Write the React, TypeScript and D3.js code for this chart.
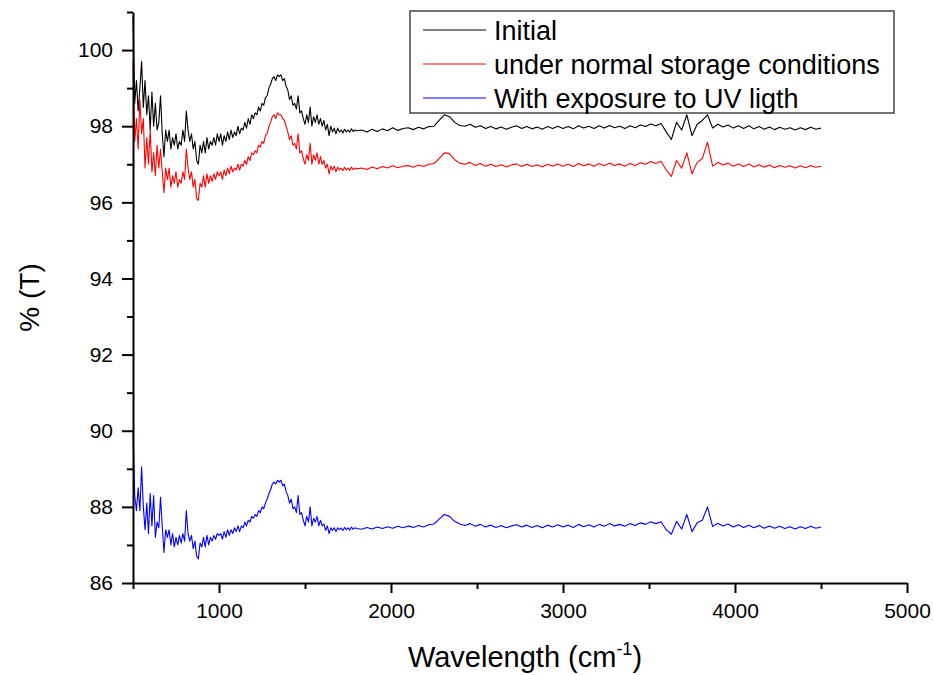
import { useEffect, useRef } from 'react';
import * as d3 from 'd3';

// wavenumber grid (cm-1) the three spectra are read on
const wavenumbers = [
  500, 510, 520, 530, 540, 550, 560, 570, 580, 590,
  600, 610, 620, 630, 640, 650, 660, 670, 680, 690,
  700, 710, 720, 730, 740, 750, 760, 770, 780, 790,
  800, 810, 820, 830, 840, 850, 860, 870, 880, 890,
  900, 910, 920, 930, 940, 950, 960, 970, 980, 990,
  1000,
  1010, 1020, 1030, 1040, 1050, 1060, 1070, 1080, 1090, 1100,
  1110, 1120, 1130, 1140, 1150, 1160, 1170, 1180, 1190, 1200,
  1210, 1220, 1230, 1240, 1250, 1260, 1270, 1280, 1290, 1300,
  1310, 1320, 1330, 1340, 1350, 1360, 1370, 1380, 1390, 1400,
  1410, 1420, 1430, 1440, 1450, 1460, 1470, 1480, 1490, 1500,
  1510, 1520, 1530, 1540, 1550, 1560, 1570, 1580, 1590, 1600,
  1610, 1620, 1630, 1640, 1650, 1660, 1670, 1680, 1690, 1700,
  1710, 1720, 1730, 1740, 1750, 1760, 1770, 1780, 1790, 1800,
  1830, 1860, 1890, 1920, 1950, 1980, 2010, 2040, 2070, 2100,
  2130, 2160, 2190, 2220, 2250, 2280, 2310, 2340, 2370, 2400,
  2430, 2460, 2490, 2520, 2550, 2580, 2610, 2640, 2670, 2700,
  2730, 2760, 2790, 2820, 2850, 2880, 2910, 2940, 2970, 3000,
  3030, 3060, 3090, 3120, 3150, 3180, 3210, 3240, 3270, 3300,
  3330, 3360, 3390, 3420, 3450, 3480, 3510, 3540, 3570, 3600,
  3630, 3660, 3690, 3720, 3750, 3780, 3810, 3840, 3870, 3900,
  3930, 3960, 3990, 4020, 4050, 4080, 4110, 4140, 4170, 4200,
  4230, 4260, 4290, 4320, 4350, 4380, 4410, 4440, 4470, 4500,
];

const initial = [
  100.9, 98.6, 99.2, 98.4, 99.0, 99.7, 98.5, 99.2, 98.3, 98.8,
  97.9, 98.9, 98.0, 98.6, 97.9, 98.1, 98.8, 97.8, 97.2, 97.9,
  97.6, 97.9, 97.4, 97.7, 97.5, 97.8, 97.4, 97.6, 97.5, 97.9,
  97.6, 98.4, 97.9, 97.6, 97.8, 97.4, 97.6, 97.1, 97.0, 97.5,
  97.3, 97.6, 97.3, 97.7, 97.4, 97.6, 97.5, 97.7, 97.5, 97.8,
  97.6,
  97.8, 97.5, 97.75, 97.6, 97.85, 97.65, 97.9, 97.7, 97.85, 97.75,
  98.0, 97.8, 97.95, 97.9, 98.1, 97.95, 98.2, 98.05, 98.3, 98.2,
  98.35, 98.3, 98.5, 98.4, 98.6, 98.55, 98.75, 98.8, 99.0, 99.1,
  99.25, 99.3, 99.2, 99.35, 99.3, 99.35, 99.2, 99.25, 99.05, 98.95,
  98.7, 98.8, 98.55, 98.6, 98.45, 98.8, 98.35, 98.4, 98.2, 98.05,
  98.3, 98.1, 98.5, 98.0, 98.25, 98.1, 98.3, 98.05, 98.2, 98.0,
  98.15, 97.9, 98.05, 97.75, 98.0, 97.85, 97.95, 97.8, 97.95, 97.85,
  97.9, 97.82, 97.92, 97.85, 97.9, 97.84, 97.93, 97.86, 97.9, 97.88,
  97.9, 97.85, 97.92, 97.86, 97.93, 97.88, 97.96, 97.89, 97.94, 97.96,
  97.91, 97.97, 97.93, 97.99, 98.0, 98.15, 98.3, 98.25, 98.1, 98.02,
  98.0, 98.05, 97.97, 98.01, 97.94, 97.99, 97.93, 97.98, 97.92, 97.97,
  98.01, 97.94, 97.99, 97.93, 97.98, 97.92, 97.99, 97.94, 98.0, 97.94,
  97.99, 97.93, 98.01, 97.95, 98.0, 97.94, 98.01, 97.95, 98.02, 97.96,
  98.0, 97.94, 98.01, 97.96, 98.03, 97.99, 98.06, 98.01, 98.07, 97.85,
  97.65, 98.1, 97.9, 98.3, 97.75, 98.05, 98.15, 98.3, 97.95, 98.05,
  97.98, 98.03, 97.95, 98.01, 97.94, 98.01, 97.93, 97.99, 97.92, 97.98,
  97.91, 97.97, 97.92, 97.96, 97.9, 97.96, 97.91, 97.97, 97.92, 97.95,
];

const normalStorage = [
  99.7, 97.6, 98.2, 97.4, 98.7, 97.8, 98.2, 96.9, 97.7, 97.0,
  97.9, 96.8, 97.3, 96.7, 97.5, 96.9, 97.4, 96.8, 96.25, 96.9,
  96.6, 96.9, 96.4, 96.7, 96.5, 96.8, 96.4, 96.6, 96.5, 96.8,
  96.6, 97.4, 96.9, 96.6, 96.8, 96.4, 96.6, 96.1, 96.05, 96.5,
  96.4, 96.7, 96.4, 96.75, 96.5, 96.7, 96.55, 96.75, 96.6, 96.8,
  96.7,
  96.8, 96.6, 96.85, 96.7, 96.9, 96.75, 96.95, 96.8, 96.9, 96.85,
  97.0, 96.85, 97.0, 96.95, 97.1, 97.0, 97.2, 97.1, 97.3, 97.25,
  97.35, 97.3, 97.5, 97.45, 97.6, 97.55, 97.75, 97.8, 98.0, 98.1,
  98.25, 98.3, 98.2, 98.35, 98.3, 98.3, 98.2, 98.15, 98.0, 97.85,
  97.65, 97.75, 97.5, 97.55, 97.4, 97.8, 97.3, 97.35, 97.15, 97.0,
  97.25, 97.1, 97.55, 97.0, 97.25, 97.1, 97.3, 97.0, 97.2, 97.0,
  97.1, 96.9, 97.0, 96.75, 96.95, 96.85, 96.95, 96.8, 96.92, 96.85,
  96.9, 96.83, 96.92, 96.85, 96.9, 96.84, 96.93, 96.86, 96.9, 96.88,
  96.9, 96.86, 96.93, 96.88, 96.94, 96.9, 96.96, 96.91, 96.95, 96.97,
  96.92, 96.98, 96.94, 97.0, 97.02, 97.15, 97.3, 97.28, 97.12, 97.03,
  97.0, 97.05, 96.97, 97.02, 96.95, 97.0, 96.94, 96.99, 96.93, 96.98,
  97.01, 96.94, 97.0, 96.94, 96.99, 96.93, 97.0, 96.95, 97.01, 96.95,
  97.0, 96.94, 97.02, 96.96, 97.01, 96.95, 97.02, 96.96, 97.03, 96.97,
  97.01, 96.95, 97.02, 96.97, 97.04, 97.0, 97.07, 97.02, 97.08, 96.85,
  96.68, 97.1, 96.9, 97.3, 96.75, 97.05, 97.15, 97.58, 96.95, 97.05,
  96.98, 97.03, 96.95, 97.01, 96.94, 97.01, 96.93, 96.99, 96.92, 96.98,
  96.91, 96.97, 96.92, 96.96, 96.9, 96.96, 96.91, 96.97, 96.92, 96.95,
];

const uvExposure = [
  89.95, 88.3, 87.9, 88.5, 87.9, 89.05, 88.0, 87.4, 88.1, 87.3,
  88.35, 87.5, 88.3, 87.2, 87.6, 87.45, 88.25, 87.5, 86.8, 87.4,
  87.2, 87.4, 87.0, 87.3, 86.95, 87.2, 87.0, 87.25, 87.05, 87.3,
  87.1, 87.9, 87.3, 87.1, 87.25, 86.9, 87.1, 86.7, 86.63, 87.05,
  86.95, 87.2, 86.95, 87.25, 87.0, 87.2, 87.1, 87.25, 87.15, 87.3,
  87.25,
  87.3, 87.15, 87.35, 87.2, 87.4, 87.25, 87.4, 87.3, 87.45, 87.35,
  87.5, 87.35, 87.5, 87.45, 87.6, 87.5, 87.65, 87.6, 87.75, 87.7,
  87.8, 87.75, 87.9, 87.85, 88.0, 87.95, 88.1, 88.2, 88.35, 88.45,
  88.6, 88.65, 88.6, 88.7, 88.65, 88.7, 88.55, 88.6, 88.4, 88.3,
  88.1, 88.2, 87.95, 88.0, 87.85, 88.3, 87.8, 87.85, 87.65, 87.5,
  87.75, 87.6, 88.0, 87.5, 87.7, 87.6, 87.75, 87.5, 87.65, 87.5,
  87.55, 87.38, 87.5, 87.3, 87.45, 87.38, 87.45, 87.35, 87.45, 87.4,
  87.44, 87.38, 87.46, 87.4, 87.45, 87.39, 87.47, 87.41, 87.45, 87.43,
  87.41, 87.46, 87.42, 87.47, 87.43, 87.48, 87.44, 87.49, 87.45, 87.5,
  87.46, 87.51, 87.47, 87.53, 87.55, 87.68, 87.8, 87.75, 87.62, 87.55,
  87.51, 87.56, 87.49, 87.54, 87.47, 87.52, 87.46, 87.51, 87.45, 87.5,
  87.53, 87.47, 87.52, 87.46, 87.51, 87.45, 87.52, 87.47, 87.53, 87.47,
  87.52, 87.46, 87.54, 87.48, 87.53, 87.47, 87.54, 87.49, 87.56, 87.5,
  87.54, 87.49, 87.56, 87.51, 87.58, 87.54, 87.61, 87.56, 87.61, 87.4,
  87.28, 87.62, 87.42, 87.8, 87.35, 87.58, 87.65, 88.0, 87.48, 87.57,
  87.5, 87.55, 87.47, 87.53, 87.46, 87.52, 87.45, 87.51, 87.44, 87.5,
  87.44, 87.49, 87.43, 87.48, 87.42, 87.48, 87.43, 87.49, 87.44, 87.47,
];

const seriesNames = ['Initial', 'under normal storage conditions', 'With exposure to UV ligth'];
const seriesColors = ['#000000', '#ff0000', '#0000ff'];
const seriesValues = [initial, normalStorage, uvExposure];

const xMajorTicks = [1000, 2000, 3000, 4000, 5000];
const xMinorTicks = [500, 1500, 2500, 3500, 4500];
const yMajorTicks = [86, 88, 90, 92, 94, 96, 98, 100];
const yMinorTicks = [87, 89, 91, 93, 95, 97, 99, 101];

const FONT = '"Liberation Sans", Arial, Helvetica, sans-serif';

export default function App() {
  const svgRef = useRef<SVGSVGElement>(null);

  useEffect(() => {
    if (!svgRef.current) return;
    const svg = d3.select(svgRef.current);
    svg.selectAll('*').remove();

    const margin = { top: 12, right: 26, bottom: 92, left: 133 };
    const width = 933 - margin.left - margin.right;
    const height = 675 - margin.top - margin.bottom;

    const x = d3.scaleLinear().domain([500, 5000]).range([0, width]);
    const y = d3.scaleLinear().domain([86, 101]).range([height, 0]);

    const g = svg.append('g').attr('transform', `translate(${margin.left},${margin.top})`);

    // spectra
    const line = d3
      .line<number>()
      .x((_, i) => x(wavenumbers[i]))
      .y((d) => y(d));

    seriesValues.forEach((vals, k) => {
      const n = Math.min(vals.length, wavenumbers.length);
      g.append('path')
        .datum(vals.slice(0, n))
        .attr('fill', 'none')
        .attr('stroke', seriesColors[k])
        .attr('stroke-width', 1.1)
        .attr('stroke-linejoin', 'round')
        .attr('d', line);
    });

    // axes
    const styleAxis = (sel: d3.Selection<SVGGElement, unknown, null, undefined>) => {
      sel.selectAll('path.domain').attr('stroke', '#000').attr('stroke-width', 2);
      sel.selectAll('.tick line').attr('stroke', '#000').attr('stroke-width', 2);
      sel.selectAll('.tick text').attr('fill', '#000').style('font-family', FONT).style('font-size', '21px');
    };

    const xAxis = g.append('g').attr('transform', `translate(0,${height})`)
      .call(d3.axisBottom(x).tickValues(xMajorTicks).tickFormat(d3.format('d')).tickSize(10).tickPadding(10).tickSizeOuter(0));
    styleAxis(xAxis);
    const xMinor = g.append('g').attr('transform', `translate(0,${height})`)
      .call(d3.axisBottom(x).tickValues(xMinorTicks).tickFormat(() => '').tickSize(6).tickSizeOuter(0));
    xMinor.select('path.domain').remove();
    styleAxis(xMinor);

    const yAxis = g.append('g')
      .call(d3.axisLeft(y).tickValues(yMajorTicks).tickFormat(d3.format('d')).tickSize(11).tickPadding(9).tickSizeOuter(0));
    styleAxis(yAxis);
    const yMinor = g.append('g')
      .call(d3.axisLeft(y).tickValues(yMinorTicks).tickFormat(() => '').tickSize(6).tickSizeOuter(0));
    yMinor.select('path.domain').remove();
    styleAxis(yMinor);

    // axis titles
    const xTitle = svg.append('text')
      .attr('x', 525)
      .attr('y', 667)
      .attr('text-anchor', 'middle')
      .style('font-family', FONT)
      .style('font-size', '29px')
      .attr('fill', '#000');
    xTitle.append('tspan').text('Wavelength (cm');
    xTitle.append('tspan').attr('dy', -12).style('font-size', '18px').text('-1');
    xTitle.append('tspan').attr('dy', 12).text(')');

    svg.append('text')
      .attr('transform', `translate(39,${margin.top + height / 2}) rotate(-90)`)
      .attr('text-anchor', 'middle')
      .style('font-family', FONT)
      .style('font-size', '28px')
      .attr('fill', '#000')
      .text('% (T)');

    // legend
    const legend = svg.append('g').attr('transform', 'translate(410,11)');
    legend.append('rect')
      .attr('width', 484)
      .attr('height', 102)
      .attr('fill', '#fff')
      .attr('stroke', '#444')
      .attr('stroke-width', 1.5);
    seriesNames.forEach((name, k) => {
      const row = legend.append('g').attr('transform', `translate(0,${19 + k * 34})`);
      row.append('line')
        .attr('x1', 13).attr('x2', 76)
        .attr('stroke', seriesColors[k])
        .attr('stroke-width', 1);
      row.append('text')
        .attr('x', 84)
        .attr('y', 9.5)
        .style('font-family', FONT)
        .style('font-size', '27px')
        .attr('fill', '#000')
        .text(name);
    });
  }, []);

  return (
    <svg
      ref={svgRef}
      width={933}
      height={675}
      style={{ position: 'absolute', left: 0, top: 0, background: '#fff' }}
    />
  );
}
